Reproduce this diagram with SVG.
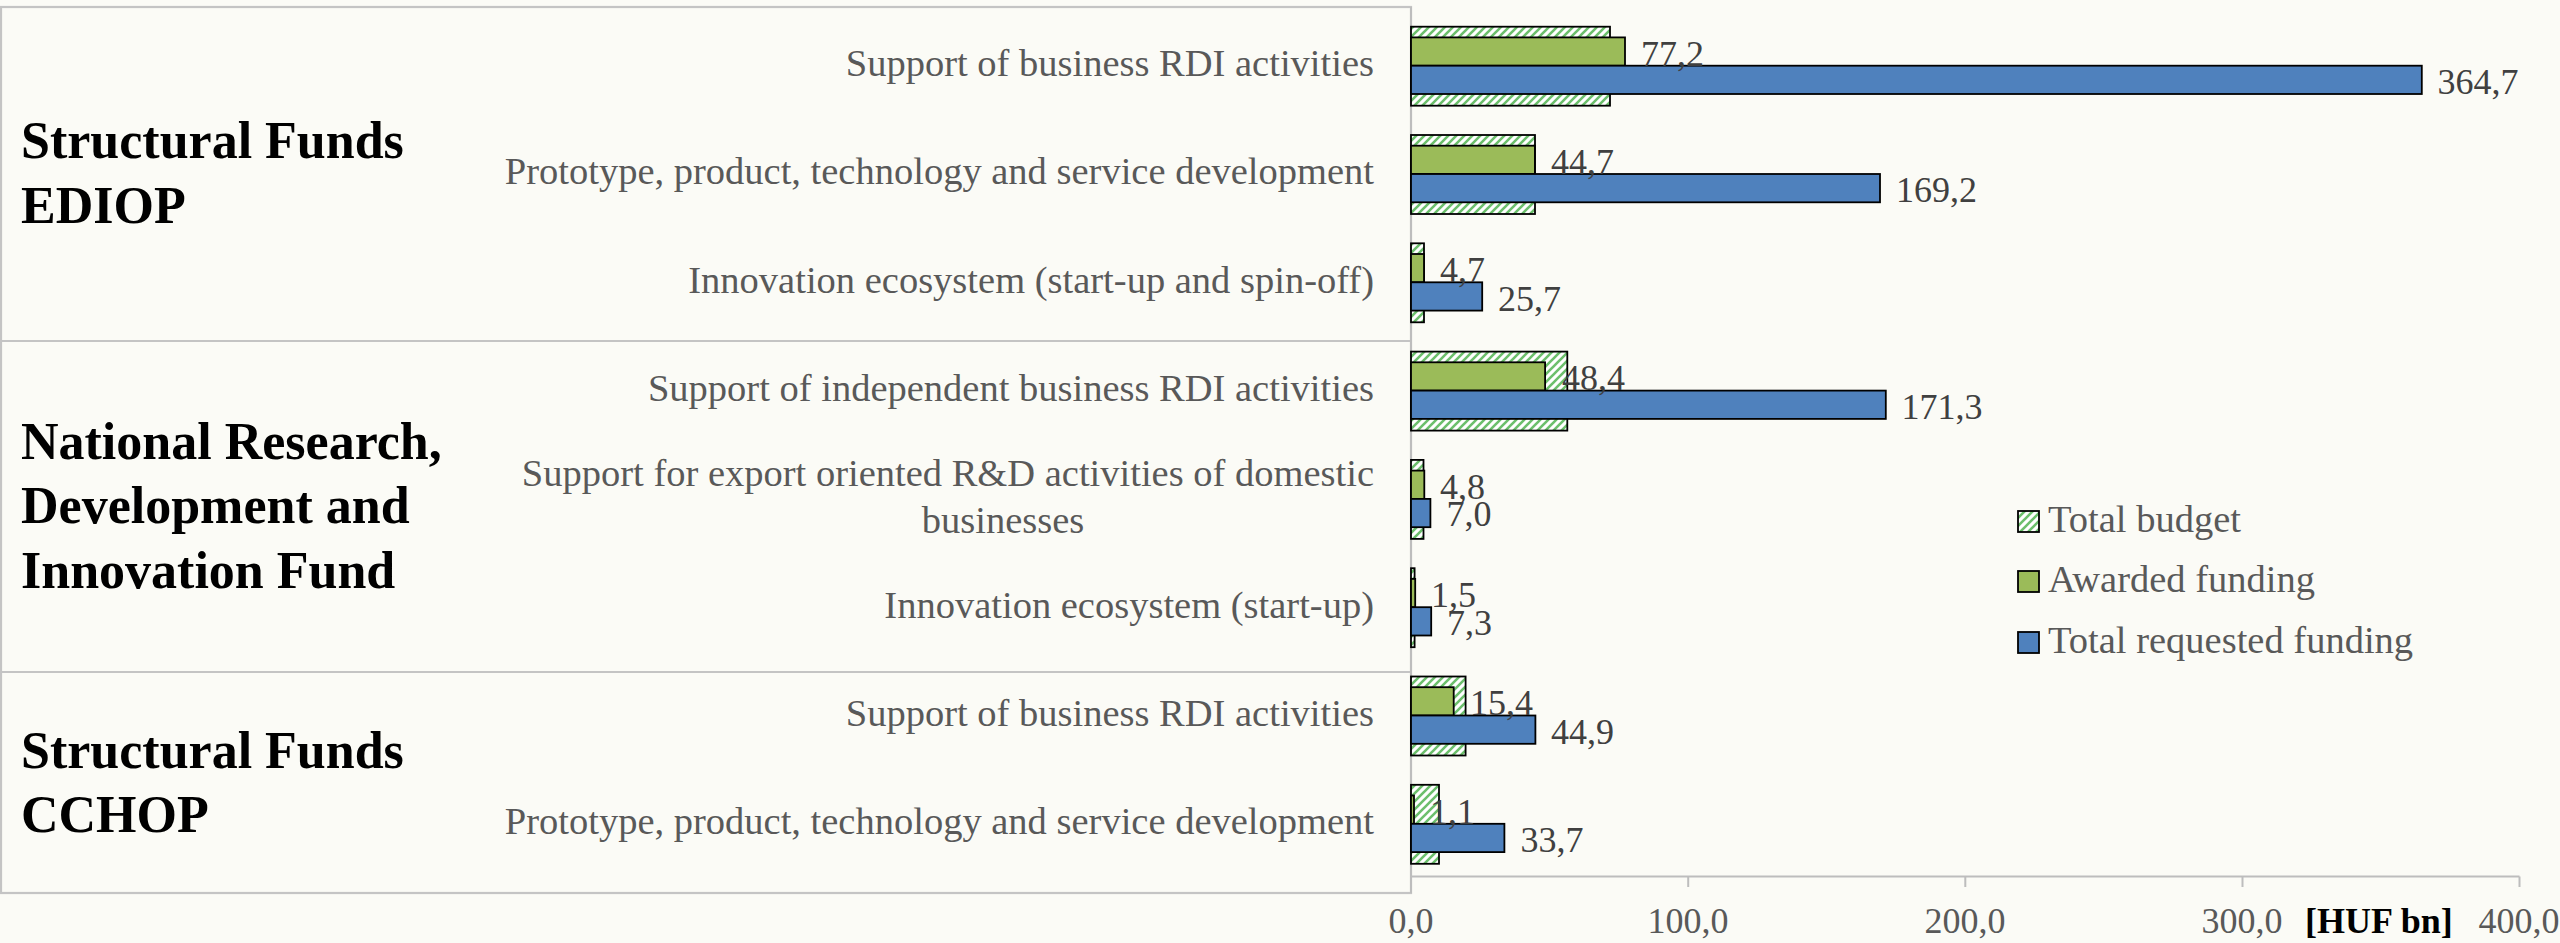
<svg xmlns="http://www.w3.org/2000/svg" width="2560" height="943" viewBox="0 0 2560 943">
<defs>
<pattern id="hatch" patternUnits="userSpaceOnUse" width="8" height="8">
<rect width="8" height="8" fill="#ffffff"/>
<path d="M-2,2 L2,-2 M0,8 L8,0 M6,10 L10,6" stroke="#6cbf6c" stroke-width="2.6"/>
</pattern>
</defs>
<style>
.bg{fill:#fbfbf6}
.frame{fill:none;stroke:#c4c4c4;stroke-width:2.2}
.axis{stroke:#bdbdbd;stroke-width:2;fill:none}
.grp{font-family:"Liberation Serif",serif;font-weight:bold;font-size:52px;fill:#000}
.cat{font-family:"Liberation Serif",serif;font-size:38.5px;fill:#595959;text-anchor:end}
.val{font-family:"Liberation Serif",serif;font-size:36px;fill:#404040}
.tick{font-family:"Liberation Serif",serif;font-size:36px;fill:#595959;text-anchor:middle}
.unit{font-family:"Liberation Serif",serif;font-size:36px;font-weight:bold;fill:#000}
.leg{font-family:"Liberation Serif",serif;font-size:38.5px;fill:#595959}
.tb{fill:url(#hatch);stroke:#000;stroke-width:1.8}
.aw{fill:#9bbb59;stroke:#000;stroke-width:1.8}
.rq{fill:#4f81bd;stroke:#000;stroke-width:1.8}
</style>
<rect class="bg" x="0" y="0" width="2560" height="943"/>

<g id="panel">
<rect class="frame" x="1" y="7" width="1410" height="886"/>
<line class="frame" x1="1" y1="341" x2="1411" y2="341"/>
<line class="frame" x1="1" y1="672" x2="1411" y2="672"/>
</g>

<g id="group-ediop">
<text class="grp" x="21" y="158">Structural Funds</text>
<text class="grp" x="21" y="223">EDIOP</text>
</g>
<g id="group-nrdi">
<text class="grp" x="21" y="459">National Research,</text>
<text class="grp" x="21" y="523">Development and</text>
<text class="grp" x="21" y="588">Innovation Fund</text>
</g>
<g id="group-cchop">
<text class="grp" x="21" y="768">Structural Funds</text>
<text class="grp" x="21" y="832">CCHOP</text>
</g>

<g id="category-labels">
<text class="cat" x="1374" y="76">Support of business RDI activities</text>
<text class="cat" x="1374" y="184">Prototype, product, technology and service development</text>
<text class="cat" x="1374" y="293">Innovation ecosystem (start-up and spin-off)</text>
<text class="cat" x="1374" y="401">Support of independent business RDI activities</text>
<text class="cat" x="1374" y="486">Support for export oriented R&amp;D activities of domestic</text>
<text class="cat" x="1003" y="533" style="text-anchor:middle">businesses</text>
<text class="cat" x="1374" y="618">Innovation ecosystem (start-up)</text>
<text class="cat" x="1374" y="726">Support of business RDI activities</text>
<text class="cat" x="1374" y="834">Prototype, product, technology and service development</text>
</g>

<g id="axis">
<line class="axis" x1="1411" y1="7" x2="1411" y2="893"/>
<line class="axis" x1="1411" y1="876.5" x2="2519.5" y2="876.5"/>
<path class="axis" d="M1688.2,876.5 V887 M1965.3,876.5 V887 M2242.5,876.5 V887 M2519.5,876.5 V887"/>
<text class="tick" x="1411" y="933">0,0</text>
<text class="tick" x="1688" y="933">100,0</text>
<text class="tick" x="1965" y="933">200,0</text>
<text class="tick" x="2242" y="933">300,0</text>
<text class="tick" x="2519" y="933">400,0</text>
<text class="unit" x="2305" y="933">[HUF bn]</text>
</g>

<g id="bars">
<!-- cat 1 c=65.7 -->
<rect class="tb" x="1411" y="26.7" width="199" height="79"/>
<rect class="aw" x="1411" y="37.4" width="214" height="28.3"/>
<rect class="rq" x="1411" y="65.7" width="1010.8" height="28.3"/>
<!-- cat 2 c=174 -->
<rect class="tb" x="1411" y="135" width="124" height="79"/>
<rect class="aw" x="1411" y="145.7" width="123.9" height="28.3"/>
<rect class="rq" x="1411" y="174" width="469" height="28.3"/>
<!-- cat 3 c=282.3 -->
<rect class="tb" x="1411" y="243.3" width="13" height="79"/>
<rect class="aw" x="1411" y="254" width="13" height="28.3"/>
<rect class="rq" x="1411" y="282.3" width="71.2" height="28.3"/>
<!-- cat 4 c=390.6 -->
<rect class="tb" x="1411" y="351.6" width="156.3" height="79"/>
<rect class="aw" x="1411" y="362.3" width="134.1" height="28.3"/>
<rect class="rq" x="1411" y="390.6" width="474.8" height="28.3"/>
<!-- cat 5 c=498.9 -->
<rect class="tb" x="1411" y="459.9" width="12.5" height="79"/>
<rect class="aw" x="1411" y="470.6" width="13.3" height="28.3"/>
<rect class="rq" x="1411" y="498.9" width="19.4" height="28.3"/>
<!-- cat 6 c=607.2 -->
<rect class="tb" x="1411" y="568.2" width="3.6" height="79"/>
<rect class="aw" x="1411" y="578.9" width="4.2" height="28.3"/>
<rect class="rq" x="1411" y="607.2" width="20.2" height="28.3"/>
<!-- cat 7 c=715.5 -->
<rect class="tb" x="1411" y="676.5" width="54.6" height="79"/>
<rect class="aw" x="1411" y="687.2" width="42.7" height="28.3"/>
<rect class="rq" x="1411" y="715.5" width="124.4" height="28.3"/>
<!-- cat 8 c=823.8 -->
<rect class="tb" x="1411" y="784.8" width="28" height="79"/>
<rect class="aw" x="1411" y="795.5" width="3" height="28.3"/>
<rect class="rq" x="1411" y="823.8" width="93.4" height="28.3"/>
</g>

<g id="value-labels">
<text class="val" x="1641" y="65.5">77,2</text>
<text class="val" x="2437.5" y="93.5">364,7</text>
<text class="val" x="1551" y="174">44,7</text>
<text class="val" x="1896" y="202">169,2</text>
<text class="val" x="1440" y="282">4,7</text>
<text class="val" x="1498" y="310.5">25,7</text>
<text class="val" x="1562" y="390">48,4</text>
<text class="val" x="1901.5" y="418.5">171,3</text>
<text class="val" x="1440" y="498.5">4,8</text>
<text class="val" x="1446.5" y="526">7,0</text>
<text class="val" x="1431" y="607">1,5</text>
<text class="val" x="1447" y="635">7,3</text>
<text class="val" x="1470" y="715">15,4</text>
<text class="val" x="1551" y="743.5">44,9</text>
<text class="val" x="1430" y="823.5">1,1</text>
<text class="val" x="1520.5" y="851.5">33,7</text>
</g>

<g id="legend">
<rect class="tb" x="2018" y="511" width="21" height="21"/>
<text class="leg" x="2048" y="531.7">Total budget</text>
<rect class="aw" x="2018" y="571" width="21" height="21"/>
<text class="leg" x="2048" y="591.7">Awarded funding</text>
<rect class="rq" x="2018" y="632" width="21" height="21"/>
<text class="leg" x="2048" y="652.7">Total requested funding</text>
</g>
</svg>
